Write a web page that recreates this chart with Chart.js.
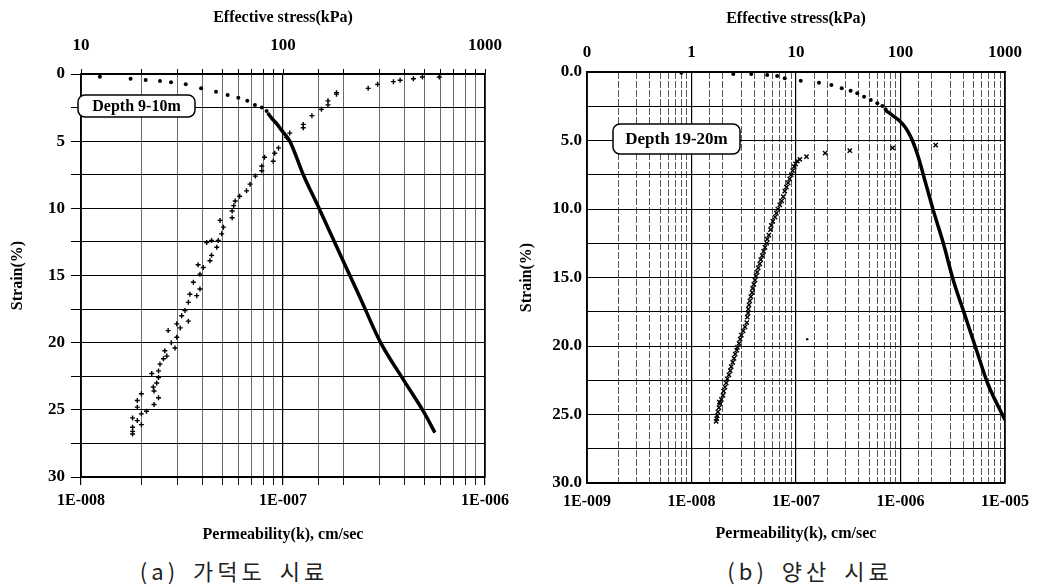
<!DOCTYPE html>
<html>
<head>
<meta charset="utf-8">
<script src="https://cdn.jsdelivr.net/npm/chart.js@4.4.1/dist/chart.umd.min.js"></script>
<style>
  body { margin: 0; background: #fff; width: 1039px; height: 587px; position: relative; overflow: hidden; }
  canvas { position: absolute; top: 0; }
  #chartA { left: 0; }
  #chartB { left: 505px; }
  .cap { position: absolute; top: 554px; font-family: "Noto Sans CJK KR"; font-size: 22px; letter-spacing: 4px; word-spacing: 5px; color: #222; white-space: pre; transform: translateX(-50%); }
</style>
</head>
<body>
<canvas id="chartA" width="515" height="545"></canvas>
<canvas id="chartB" width="534" height="545"></canvas>
<div class="cap" style="left:234px">(a) 가덕도 시료</div>
<div class="cap" style="left:810px">(b) 양산 시료</div>
<script>
// (a) depth 9-10m : [effective stress kPa, strain %]
const leftStressDots = [
  [12.4, 0.2], [17.6, 0.35], [20.9, 0.45], [24.6, 0.52], [27.9, 0.62], [33, 0.77],
  [39.3, 1.07], [46.6, 1.32], [53.2, 1.56], [60.1, 1.76], [66.6, 2.0], [72.6, 2.3],
  [78.5, 2.5], [83, 2.75]
];
const leftStressLine = [
  [84, 2.9], [88, 3.3], [93, 3.7], [98.5, 4.2], [108, 5.0], [126, 7.5], [152, 10.1],
  [181, 12.6], [240, 16.6], [302, 19.9], [400, 22.9], [495, 25.1], [565, 26.7]
];
// (a) [permeability cm/sec, strain %]
const leftPermeability = [
  [5.94e-7, 0.22], [4.9e-7, 0.22], [4.42e-7, 0.35], [3.8e-7, 0.47], [3.52e-7, 0.57],
  [2.94e-7, 0.77], [2.64e-7, 1.07], [1.84e-7, 1.39], [1.84e-7, 1.5], [1.67e-7, 2.0],
  [1.67e-7, 2.3], [1.55e-7, 2.63], [1.39e-7, 3.1], [1.26e-7, 3.75], [1.26e-7, 4.0],
  [1.08e-7, 4.4], [1.04e-7, 4.74], [9.5e-8, 5.5], [9.1e-8, 5.9], [8.95e-8, 6.5],
  [8.1e-8, 6.2], [7.85e-8, 6.85], [7.85e-8, 7.2], [7.3e-8, 7.6], [6.87e-8, 8.2],
  [6.6e-8, 8.7], [6.1e-8, 9.1], [5.8e-8, 9.45], [5.7e-8, 9.8], [5.6e-8, 10.2],
  [5.6e-8, 10.7], [4.88e-8, 10.9], [5.07e-8, 11.4], [4.97e-8, 11.9], [4.78e-8, 12.4],
  [4.43e-8, 12.4], [4.19e-8, 12.55], [4.7e-8, 12.9], [4.43e-8, 13.5], [4.35e-8, 13.9],
  [3.8e-8, 14.2], [4.03e-8, 14.4], [3.88e-8, 14.9], [3.6e-8, 15.5], [3.88e-8, 16.0],
  [3.46e-8, 16.4], [3.74e-8, 16.5], [3.4e-8, 17.0], [3.27e-8, 17.6], [3.15e-8, 18.0],
  [3.4e-8, 18.4], [2.98e-8, 18.6], [3.1e-8, 18.9], [2.7e-8, 19.1], [2.98e-8, 19.6],
  [2.8e-8, 20.0], [2.92e-8, 20.4], [2.6e-8, 20.6], [2.66e-8, 21.0], [2.56e-8, 21.2],
  [2.46e-8, 21.6], [2.42e-8, 22.1], [2.24e-8, 22.3], [2.42e-8, 22.6], [2.37e-8, 23.0],
  [2.28e-8, 23.3], [2.3e-8, 23.6], [1.99e-8, 23.8], [2.42e-8, 24.1], [1.9e-8, 24.3],
  [2.3e-8, 24.6], [1.9e-8, 24.8], [2.11e-8, 25.1], [1.99e-8, 25.3], [1.8e-8, 25.6],
  [1.9e-8, 25.8], [1.99e-8, 26.1], [1.8e-8, 26.3], [1.8e-8, 26.6], [1.8e-8, 26.8]
];

// (b) depth 19-20m
const rightStressDots = [
  [0.8, 0.05], [2.51, 0.15], [3.73, 0.15], [5.3, 0.22], [6.6, 0.29], [7.8, 0.46],
  [11.1, 0.64], [16.6, 0.78], [21.8, 0.95], [27.4, 1.19], [33.3, 1.36], [38.6, 1.55],
  [44.8, 1.8], [51.9, 2.04], [60, 2.28], [67, 2.48], [72, 2.72]
];
const rightStressLine = [
  [72, 2.8], [85, 3.2], [99, 3.6], [110, 4.0], [119, 4.4], [130, 5.0], [148, 6.2],
  [171, 7.9], [206, 10.1], [257, 12.5], [320, 15.2], [407, 17.6], [528, 20.2],
  [680, 22.7], [1000, 25.4]
];
const rightPermeability = [
  [2.17e-6, 5.33], [8.4e-7, 5.53], [3.27e-7, 5.74], [1.9e-7, 5.93], [1.26e-7, 6.18],
  [1.09e-7, 6.37], [1.03e-7, 6.5], [9.9e-8, 6.7], [9.6e-8, 6.9], [9.3e-8, 7.2],
  [9.0e-8, 7.5], [8.7e-8, 7.8], [8.4e-8, 8.1], [8.1e-8, 8.4], [7.8e-8, 8.7],
  [7.56e-8, 9.1], [7.3e-8, 9.4], [7.0e-8, 9.7], [6.7e-8, 10.0], [6.5e-8, 10.3],
  [6.3e-8, 10.6], [6.0e-8, 10.9], [5.8e-8, 11.2], [5.7e-8, 11.5], [5.5e-8, 11.9],
  [5.3e-8, 12.2], [5.25e-8, 12.5], [5.05e-8, 12.8], [4.9e-8, 13.1], [4.75e-8, 13.4],
  [4.6e-8, 13.7], [4.5e-8, 14.0], [4.35e-8, 14.3], [4.25e-8, 14.6], [4.15e-8, 14.9],
  [4.05e-8, 15.2], [3.95e-8, 15.5], [3.85e-8, 15.8], [3.8e-8, 16.1], [3.7e-8, 16.4],
  [3.62e-8, 16.7], [3.55e-8, 17.0], [3.5e-8, 17.3], [3.48e-8, 17.6], [3.42e-8, 17.9],
  [3.38e-8, 18.3], [3.25e-8, 18.6], [3.12e-8, 18.9], [3.0e-8, 19.2], [2.92e-8, 19.5],
  [2.85e-8, 19.8], [2.75e-8, 20.1], [2.71e-8, 20.3], [2.62e-8, 20.6], [2.55e-8, 20.9],
  [2.48e-8, 21.2], [2.4e-8, 21.5], [2.35e-8, 21.8], [2.28e-8, 22.1], [2.2e-8, 22.4],
  [2.15e-8, 22.7], [2.09e-8, 23.0], [2.03e-8, 23.3], [2.0e-8, 23.6], [1.93e-8, 23.9],
  [1.85e-8, 24.1], [1.88e-8, 24.2], [1.83e-8, 24.5], [1.79e-8, 24.8], [1.76e-8, 25.1],
  [1.74e-8, 25.3], [1.72e-8, 25.5]
];
const rightStrayDot = [[1.28e-7, 19.5]];

const serif = "'Liberation Serif', 'Times New Roman', serif";

function isDecade(v) {
  const l = Math.log10(v);
  return Math.abs(l - Math.round(l)) < 1e-6;
}
function kLabel(v) {
  if (!isDecade(v)) return '';
  return '1E-' + String(-Math.round(Math.log10(v))).padStart(3, '0');
}
function stressLabel(v) {
  if (!isDecade(v)) return '';
  return v < 1 ? '0' : String(Math.round(v));
}
const pts = arr => arr.map(p => ({ x: p[0], y: p[1] }));

const frame = {
  id: 'frame',
  afterDatasetsDraw(chart) {
    const a = chart.chartArea, c = chart.ctx;
    c.save();
    c.lineWidth = 1.5;
    c.strokeStyle = '#000';
    c.strokeRect(a.left, a.top, a.right - a.left, a.bottom - a.top);
    c.restore();
  }
};
const depthLabel = {
  id: 'depthLabel',
  afterDraw(chart, args, o) {
    const c = chart.ctx;
    c.save();
    c.beginPath();
    c.roundRect(o.x, o.y, o.w, o.h, 7);
    c.fillStyle = '#fff';
    c.fill();
    c.lineWidth = 1.5;
    c.strokeStyle = '#000';
    c.stroke();
    c.font = 'bold ' + o.size + 'px ' + serif;
    c.fillStyle = '#000';
    c.textAlign = 'center';
    c.textBaseline = 'middle';
    c.fillText(o.text, o.x + o.w / 2, o.y + o.h / 2 + 1);
    c.restore();
  }
};

function makeChart(id, s) {
  return new Chart(document.getElementById(id), {
    type: 'scatter',
    data: {
      datasets: [
        { data: pts(s.stressLine), xAxisID: 'xTop', showLine: true, borderColor: '#000',
          borderWidth: 3.5, pointRadius: 0, cubicInterpolationMode: 'monotone' },
        { data: pts(s.stressDots), xAxisID: 'xTop', pointRadius: 2, pointBackgroundColor: '#000',
          pointBorderWidth: 0 },
        { data: pts(s.perm), xAxisID: 'x', pointStyle: s.permStyle, pointRadius: s.permRadius,
          borderColor: '#000', pointBorderWidth: 1.4, backgroundColor: '#000' },
        { data: pts(s.extra || []), xAxisID: 'x', pointRadius: 1.2, pointBackgroundColor: '#000',
          pointBorderWidth: 0 }
      ]
    },
    options: {
      responsive: false,
      animation: false,
      layout: { padding: { left: 0, right: s.padRight, top: 0, bottom: 0 } },
      plugins: { legend: { display: false }, tooltip: { enabled: false }, depthLabel: s.box },
      scales: {
        x: {
          type: 'logarithmic', position: 'bottom', min: s.kMin, max: s.kMax,
          afterFit: sc => { sc.height = s.bottomH; sc.paddingLeft = 0; sc.paddingRight = 0; },
          grid: {
            color: c => isDecade(c.tick.value) ? '#000' : s.minorColor,
            lineWidth: c => isDecade(c.tick.value) ? 1.2 : 0.9,
            drawTicks: s.ticksOut, tickLength: 8, tickColor: '#000'
          },
          border: { color: '#000', width: 1.5,
            dash: c => (c.tick && !isDecade(c.tick.value) ? s.minorDash : []) },
          ticks: { autoSkip: false, maxRotation: 0, padding: s.bottomPad, color: '#000',
            font: { family: serif, weight: 'bold', size: 16 }, callback: v => kLabel(v) },
          title: { display: true, text: 'Permeability(k), cm/sec', color: '#000',
            font: { family: serif, weight: 'bold', size: 16 }, padding: { top: 0, bottom: s.titleBottom } }
        },
        xTop: {
          type: 'logarithmic', position: 'top', min: s.sMin, max: s.sMax,
          afterFit: sc => { sc.height = s.topH; sc.paddingLeft = 0; sc.paddingRight = 0; },
          grid: { drawOnChartArea: false, drawTicks: s.ticksOut, tickLength: 5, color: '#000' },
          border: { color: '#000', width: 1.5 },
          ticks: { autoSkip: false, maxRotation: 0, padding: s.topPad, color: '#000',
            font: { family: serif, weight: 'bold', size: 17 }, callback: v => stressLabel(v) },
          title: { display: true, text: 'Effective stress(kPa)', color: '#000',
            font: { family: serif, weight: 'bold', size: 16 }, padding: { top: s.titleTop, bottom: 0 } }
        },
        y: {
          type: 'linear', min: 0, max: 30, reverse: true,
          afterFit: sc => { sc.width = s.yW; sc.paddingTop = 0; sc.paddingBottom = 0; },
          grid: { color: '#000', lineWidth: 1, drawTicks: s.ticksOut, tickLength: 10 },
          border: { color: '#000', width: 1.5 },
          ticks: { stepSize: 2.5, padding: s.yPad, color: '#000',
            font: { family: serif, weight: 'bold', size: 17 },
            callback: v => (v % 5 === 0 ? v.toFixed(s.yDigits) : '') },
          title: { display: true, text: 'Strain(%)', color: '#000',
            font: { family: serif, weight: 'bold', size: 16 }, padding: { top: s.yTitlePad, bottom: 0 } }
        }
      }
    },
    plugins: [frame, depthLabel]
  });
}

makeChart('chartA', {
  stressDots: leftStressDots, stressLine: leftStressLine, perm: leftPermeability,
  permStyle: 'cross', permRadius: 2.5,
  kMin: 1e-8, kMax: 1e-6, sMin: 10, sMax: 1000,
  padRight: 30, yW: 81, topH: 74, bottomH: 68, ticksOut: true,
  minorColor: '#5a5a5a', minorDash: [],
  bottomPad: 6, topPad: 13, titleBottom: 1, titleTop: 8, yPad: 6, yTitlePad: 8, yDigits: 0,
  box: { text: 'Depth 9-10m', x: 78, y: 95, w: 117, h: 22, size: 16 }
});

makeChart('chartB', {
  stressDots: rightStressDots, stressLine: rightStressLine, perm: rightPermeability,
  extra: rightStrayDot, permStyle: 'crossRot', permRadius: 3,
  kMin: 1e-9, kMax: 1e-5, sMin: 0.1, sMax: 1000,
  padRight: 34, yW: 82, topH: 72, bottomH: 62, ticksOut: false,
  minorColor: '#444', minorDash: [7, 2],
  bottomPad: 9, topPad: 9, titleBottom: 2, titleTop: 9, yPad: 5, yTitlePad: 12, yDigits: 1,
  box: { text: 'Depth 19-20m', x: 108, y: 124, w: 127, h: 30, size: 17 }
});
</script>
</body>
</html>
